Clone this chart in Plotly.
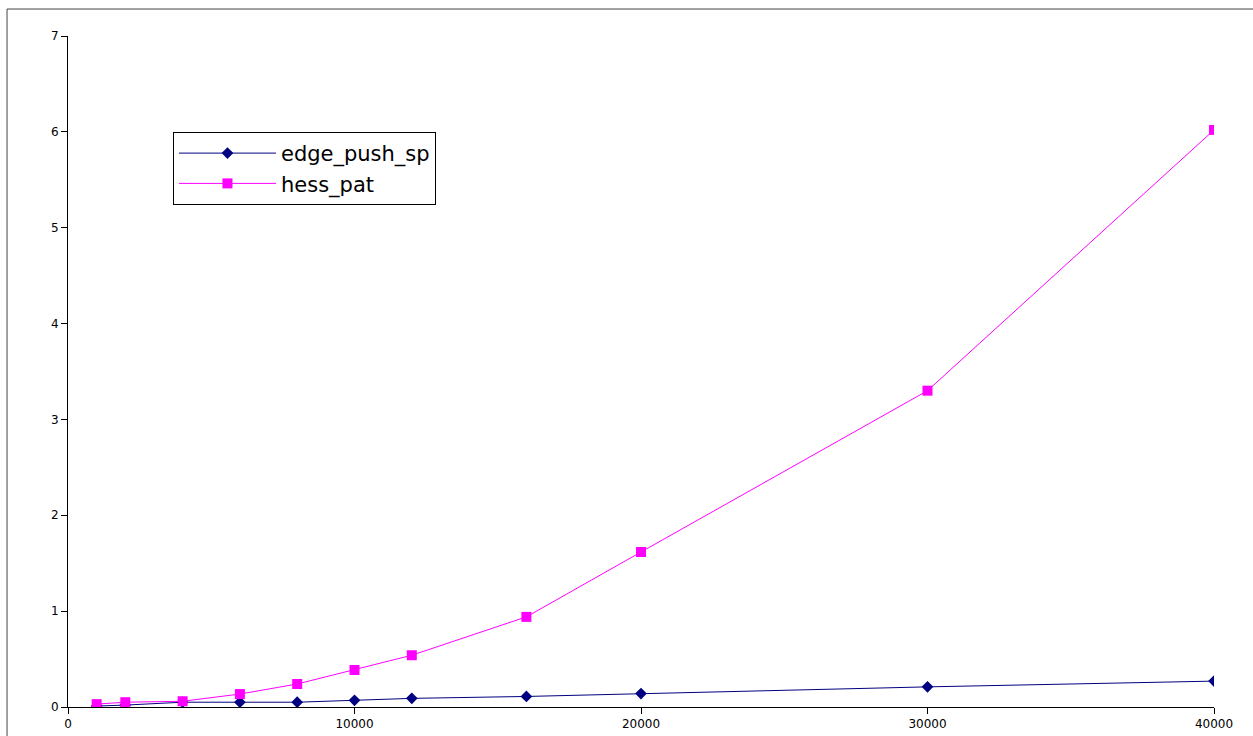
import plotly.graph_objects as go

x_vals = [1000, 2000, 4000, 6000, 8000, 10000, 12000, 16000, 20000, 30000, 40000]
edge_push_sp = [0.01, 0.02, 0.05, 0.05, 0.05, 0.07, 0.09, 0.11, 0.14, 0.21, 0.27]
hess_pat = [0.03, 0.05, 0.06, 0.135, 0.24, 0.386, 0.54, 0.94, 1.617, 3.30, 6.02]
x_ticks = [0, 10000, 20000, 30000, 40000]
x_tick_labels = ["0", "10000", "20000", "30000", "40000"]

fig = go.Figure()
fig.add_trace(go.Scatter(x=x_vals, y=edge_push_sp, name="edge_push_sp", mode="lines+markers",
                         line=dict(color="#000080", width=1),
                         marker=dict(symbol="diamond", size=9, color="#000080")))
fig.add_trace(go.Scatter(x=x_vals, y=hess_pat, name="hess_pat", mode="lines+markers",
                         line=dict(color="#ff00ff", width=1),
                         marker=dict(symbol="square", size=10, color="#ff00ff")))

fig.update_layout(
    width=1253, height=736,
    margin=dict(l=68, r=39, t=36, b=29),
    plot_bgcolor="white", paper_bgcolor="white",
    font=dict(family="DejaVu Sans", size=12, color="black"),
    xaxis=dict(range=[0, 40000], tickvals=x_ticks, ticktext=x_tick_labels, automargin=False,
               showgrid=False, zeroline=False, showline=True, linecolor="black", linewidth=1,
               ticks="outside", ticklen=6, tickcolor="black", tickfont=dict(size=12)),
    yaxis=dict(range=[0, 7], dtick=1, showgrid=False, zeroline=False, showline=True,
               automargin=False,
               linecolor="black", linewidth=1, ticks="outside", ticklen=6, tickcolor="black",
               tickfont=dict(size=12)),
    legend=dict(x=0.0916, y=0.857, xanchor="left", yanchor="top",
                bordercolor="black", borderwidth=1, bgcolor="white",
                font=dict(size=21, family="DejaVu Sans"), itemwidth=97, tracegroupgap=0),
    showlegend=True,
)
fig.add_shape(type="rect", xref="paper", yref="paper", x0=-0.0532, x1=1.2, y0=-0.2, y1=1.0402,
              line=dict(color="#444444", width=1), layer="below")

fig.write_html("out.html")
